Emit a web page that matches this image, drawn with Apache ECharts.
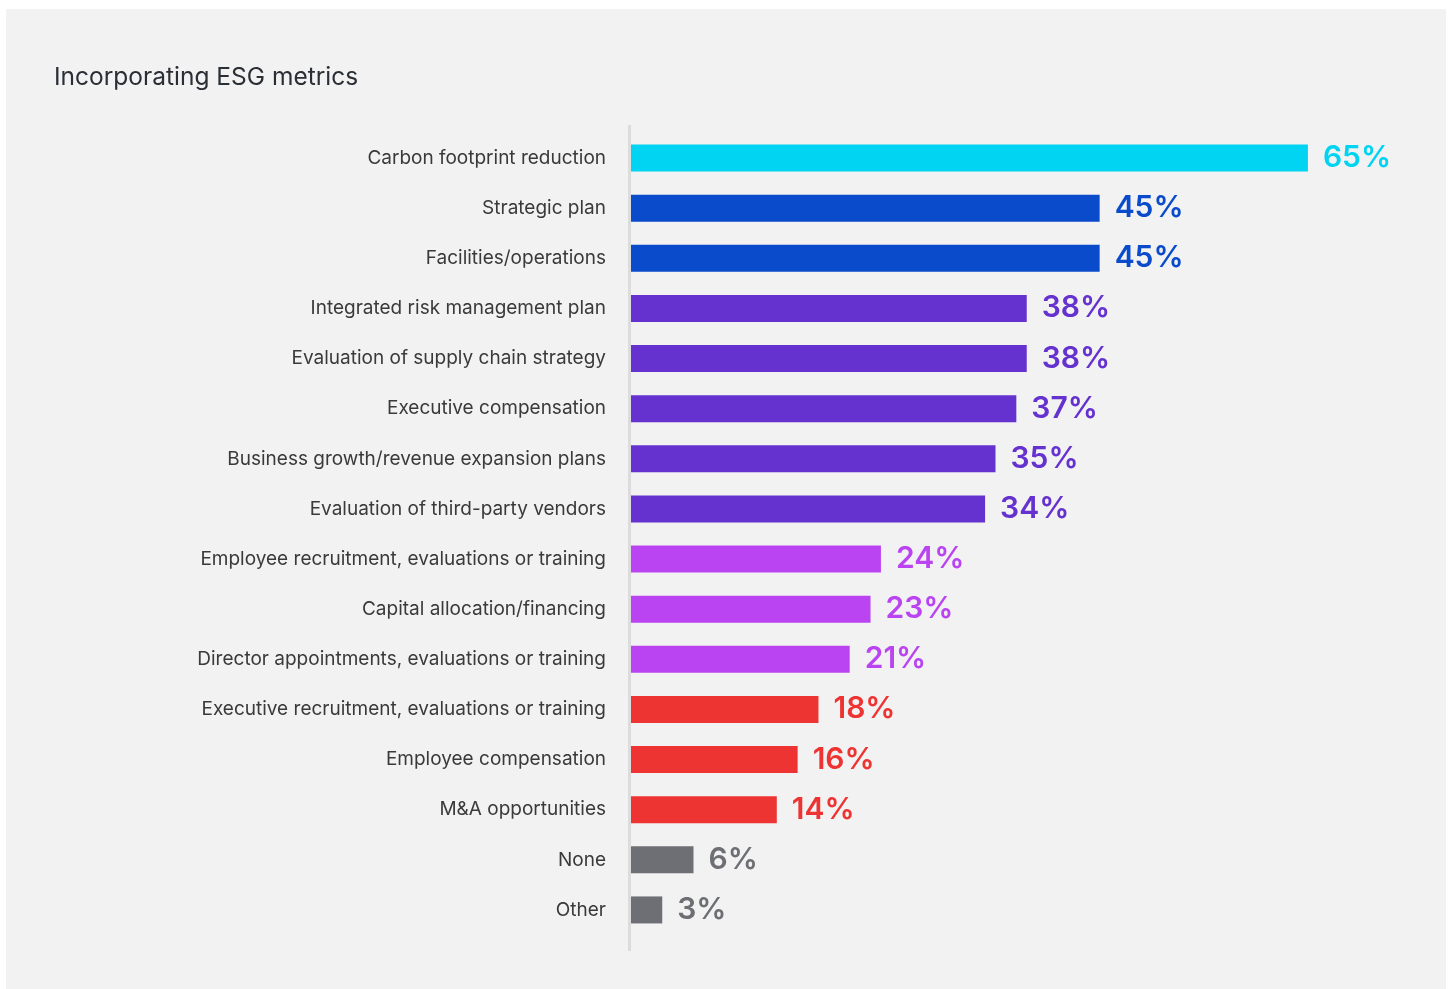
<!DOCTYPE html>
<html>
<head>
<meta charset="utf-8">
<script src="https://cdn.jsdelivr.net/npm/echarts@6/dist/echarts.min.js"></script>
<style>
  html, body { margin: 0; padding: 0; background: #ffffff; }
  #chart { width: 1449px; height: 989px; }
</style>
</head>
<body>
<div id="chart"></div>
<script>
// categories top to bottom
const categories = [
  'Carbon footprint reduction',
  'Strategic plan',
  'Facilities/operations',
  'Integrated risk management plan',
  'Evaluation of supply chain strategy',
  'Executive compensation',
  'Business growth/revenue expansion plans',
  'Evaluation of third-party vendors',
  'Employee recruitment, evaluations or training',
  'Capital allocation/financing',
  'Director appointments, evaluations or training',
  'Executive recruitment, evaluations or training',
  'Employee compensation',
  'M&A opportunities',
  'None',
  'Other'
]
const values = [65, 45, 45, 38, 38, 37, 35, 34, 24, 23, 21, 18, 16, 14, 6, 3]
// colour group per bar
const colorGroups = ['#00d4f2', '#0a4bcc', '#0a4bcc', '#6532cf', '#6532cf', '#6532cf', '#6532cf', '#6532cf',
  '#bb44f2', '#bb44f2', '#bb44f2', '#ee3333', '#ee3333', '#ee3333', '#6d6f74', '#6d6f74']

const chart = echarts.init(document.getElementById('chart'))

const option = {
  backgroundColor: '#ffffff',
  animation: false,
  graphic: [{
    type: 'rect',
    z: -10,
    shape: { x: 6, y: 9, width: 1440, height: 980 },
    style: { fill: '#f2f2f2' }
  }, {
    // vertical baseline, runs a bit past the first and last rows
    type: 'line',
    z: 10,
    shape: { x1: 629.5, y1: 125, x2: 629.5, y2: 951 },
    style: { stroke: '#dcdcdc', lineWidth: 3 }
  }],
  title: {
    text: 'Incorporating ESG metrics',
    left: 49,
    top: 60,
    textStyle: { fontFamily: 'Inter', fontSize: 24.5, fontWeight: 'normal', color: '#2a2e35' }
  },
  grid: { left: 631, right: 89, top: 133, bottom: 54 },
  xAxis: {
    type: 'value',
    min: 0,
    max: 70,
    show: false
  },
  yAxis: {
    type: 'category',
    inverse: true,
    data: categories,
    axisLine: { show: false },
    axisTick: { show: false },
    axisLabel: {
      margin: 25,
      fontFamily: 'Inter',
      fontSize: 19,
      color: '#3a3a3a'
    }
  },
  series: [{
    type: 'bar',
    data: values.map((v, i) => ({
      value: v,
      itemStyle: { color: colorGroups[i] },
      label: { color: colorGroups[i] }
    })),
    barWidth: 27,
    label: {
      show: true,
      position: 'right',
      distance: 15,
      formatter: '{c}%',
      fontFamily: 'Inter',
      fontSize: 30,
      fontWeight: 600
    }
  }]
}

chart.setOption(option)
window.addEventListener('resize', () => chart.resize())
</script>
</body>
</html>
